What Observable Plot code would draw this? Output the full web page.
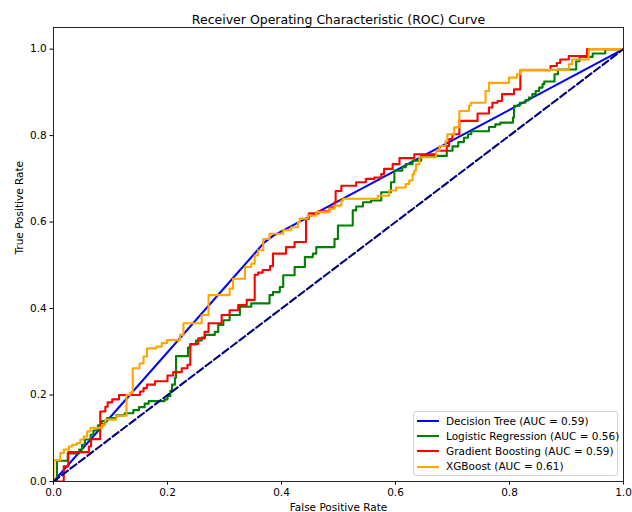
<!DOCTYPE html>
<html>
<head>
<meta charset="utf-8">
<script src="https://cdn.jsdelivr.net/npm/d3@7"></script>
<script src="https://cdn.jsdelivr.net/npm/@observablehq/plot@0.6"></script>
<style>
  html, body { margin: 0; padding: 0; background: #fff; }
  #wrap { position: relative; width: 632px; height: 512px; font-family: "DejaVu Sans", sans-serif; }
  #legend { position: absolute; left: 413px; top: 411px; width: 205px; height: 65px;
    border: 1px solid #d3d3d3; border-radius: 3px; background: rgba(255,255,255,0.85); box-sizing: border-box; }
  .row { position: absolute; left: 0; height: 12px; width: 100%; }
  .sw { position: absolute; left: 3px; top: 5px; width: 22px; height: 0; border-top: 2.1px solid; }
  .lb { position: absolute; left: 32px; top: -0.5px; font-size: 10.5px; line-height: 12px; color: #000; white-space: nowrap; }
</style>
</head>
<body>
<div id="wrap"><div id="chart"></div><div id="legend"></div></div>
<script>
const title = "Receiver Operating Characteristic (ROC) Curve";
const xLabel = "False Positive Rate";
const yLabel = "True Positive Rate";
const models = ["Decision Tree", "Logistic Regression", "Gradient Boosting", "XGBoost"];
const aucs = [0.59, 0.56, 0.59, 0.61];
const ticks = [0, 0.2, 0.4, 0.6, 0.8, 1.0];

// Decision Tree (polyline)
const dtFpr = [0, 0.37, 0.385, 0.405, 1];
const dtTpr = [0, 0.553, 0.568, 0.582, 1];

// Logistic Regression (fpr where the step rises, tpr after the rise)
const lrFpr = [0, 0.006, 0.025, 0.045, 0.05, 0.055, 0.065, 0.07, 0.078, 0.085, 0.094, 0.11, 0.125, 0.14, 0.15, 0.16, 0.167, 0.195, 0.2, 0.205, 0.208, 0.213, 0.215, 0.236, 0.24, 0.25, 0.26, 0.266, 0.283, 0.289, 0.298, 0.309, 0.327, 0.347, 0.379, 0.385, 0.397, 0.403, 0.423, 0.441, 0.455, 0.461, 0.493, 0.499, 0.525, 0.531, 0.543, 0.557, 0.575, 0.592, 0.598, 0.612, 0.618, 0.63, 0.645, 0.69, 0.70, 0.71, 0.72, 0.727, 0.733, 0.764, 0.775, 0.784, 0.806, 0.808, 0.818, 0.828, 0.834, 0.840, 0.846, 0.852, 0.858, 0.861, 0.879, 0.885, 0.917, 0.923, 0.946, 0.968, 1];
const lrTpr = [0, 0.048, 0.065, 0.074, 0.085, 0.097, 0.108, 0.118, 0.13, 0.14, 0.147, 0.153, 0.158, 0.165, 0.172, 0.18, 0.186, 0.19, 0.198, 0.21, 0.224, 0.24, 0.29, 0.31, 0.317, 0.326, 0.333, 0.339, 0.346, 0.362, 0.373, 0.385, 0.404, 0.412, 0.431, 0.438, 0.45, 0.477, 0.496, 0.519, 0.527, 0.542, 0.561, 0.592, 0.627, 0.636, 0.646, 0.65, 0.669, 0.692, 0.719, 0.727, 0.734, 0.742, 0.753, 0.765, 0.775, 0.785, 0.795, 0.803, 0.81, 0.82, 0.826, 0.83, 0.842, 0.869, 0.876, 0.882, 0.888, 0.896, 0.903, 0.911, 0.919, 0.925, 0.942, 0.953, 0.972, 0.982, 0.99, 1.0, 1];

// Gradient Boosting
const gbFpr = [0, 0.018, 0.026, 0.062, 0.066, 0.082, 0.091, 0.095, 0.103, 0.115, 0.152, 0.158, 0.164, 0.178, 0.2, 0.21, 0.225, 0.235, 0.24, 0.254, 0.265, 0.272, 0.295, 0.309, 0.324, 0.339, 0.353, 0.359, 0.367, 0.38, 0.385, 0.408, 0.423, 0.443, 0.448, 0.465, 0.484, 0.493, 0.495, 0.505, 0.531, 0.548, 0.563, 0.575, 0.58, 0.595, 0.607, 0.633, 0.671, 0.69, 0.694, 0.70, 0.712, 0.744, 0.764, 0.77, 0.779, 0.787, 0.808, 0.819, 0.872, 0.883, 0.889, 0.904, 0.936, 1];
const gbTpr = [0, 0.035, 0.068, 0.081, 0.098, 0.162, 0.173, 0.183, 0.19, 0.2, 0.208, 0.216, 0.224, 0.232, 0.245, 0.253, 0.262, 0.27, 0.318, 0.331, 0.346, 0.366, 0.385, 0.396, 0.408, 0.42, 0.478, 0.483, 0.489, 0.498, 0.527, 0.542, 0.554, 0.607, 0.62, 0.625, 0.634, 0.646, 0.672, 0.684, 0.692, 0.70, 0.703, 0.711, 0.723, 0.734, 0.748, 0.757, 0.765, 0.776, 0.792, 0.803, 0.834, 0.851, 0.865, 0.876, 0.88, 0.896, 0.907, 0.951, 0.961, 0.968, 0.976, 0.984, 1.0, 1];

// XGBoost
const xgbFpr = [0, 0, 0.012, 0.018, 0.027, 0.033, 0.041, 0.047, 0.053, 0.059, 0.065, 0.085, 0.091, 0.103, 0.11, 0.128, 0.134, 0.139, 0.151, 0.158, 0.164, 0.181, 0.19, 0.199, 0.222, 0.228, 0.26, 0.272, 0.309, 0.315, 0.336, 0.347, 0.353, 0.359, 0.368, 0.379, 0.403, 0.417, 0.429, 0.432, 0.446, 0.461, 0.484, 0.493, 0.505, 0.508, 0.569, 0.589, 0.601, 0.618, 0.624, 0.63, 0.633, 0.636, 0.642, 0.671, 0.677, 0.688, 0.691, 0.703, 0.712, 0.729, 0.732, 0.758, 0.764, 0.799, 0.813, 0.819, 0.904, 0.91, 0.939, 1];
const xgbTpr = [0, 0.049, 0.066, 0.074, 0.081, 0.085, 0.089, 0.097, 0.104, 0.116, 0.124, 0.131, 0.143, 0.143, 0.152, 0.2, 0.205, 0.262, 0.273, 0.289, 0.308, 0.312, 0.32, 0.327, 0.339, 0.366, 0.385, 0.431, 0.446, 0.469, 0.496, 0.504, 0.523, 0.535, 0.561, 0.573, 0.581, 0.588, 0.60, 0.608, 0.615, 0.623, 0.631, 0.638, 0.65, 0.654, 0.661, 0.673, 0.68, 0.688, 0.696, 0.711, 0.719, 0.734, 0.75, 0.765, 0.776, 0.788, 0.803, 0.819, 0.857, 0.869, 0.876, 0.903, 0.922, 0.934, 0.942, 0.952, 0.965, 0.976, 1.0, 1];

const chanceFpr = [0, 1];
const chanceTpr = [0, 1];

const colorRange = ["#0000ff", "#008000", "#ff0000", "#ffa500"];

const series = [[dtFpr, dtTpr], [lrFpr, lrTpr], [gbFpr, gbTpr], [xgbFpr, xgbTpr]];
const rows = [];
series.forEach(([f, t], i) => f.forEach((v, j) => rows.push({model: models[i], fpr: v, tpr: t[j]})));
const chance = chanceFpr.map((v, i) => ({fpr: v, tpr: chanceTpr[i]}));

const lw = 2.1;
const chart = Plot.plot({
  width: 632,
  height: 512,
  marginLeft: 53,
  marginRight: 9,
  marginTop: 27,
  marginBottom: 31,
  style: {fontFamily: "DejaVu Sans, sans-serif", fontSize: "10.5px", color: "#000", background: "#fff"},
  x: {domain: [0, 1]},
  y: {domain: [0, 1.05]},
  color: {domain: models, range: colorRange},
  marks: [
    Plot.line(rows.filter(d => d.model === models[0]), {x: "fpr", y: "tpr", stroke: "model", strokeWidth: lw, curve: "linear", clip: true}),
    Plot.line(rows.filter(d => d.model !== models[0]), {x: "fpr", y: "tpr", z: "model", stroke: "model", strokeWidth: lw, curve: "step-after", clip: true}),
    Plot.line(chance, {x: "fpr", y: "tpr", stroke: "#000080", strokeWidth: lw, strokeDasharray: "7.4,3.2", clip: true}),
    Plot.frame({stroke: "#000", strokeWidth: 0.85}),
    Plot.axisX({ticks, tickFormat: d3.format(".1f"), tickSize: 3.6, tickPadding: 3.2, label: null, fontSize: 10.5}),
    Plot.axisY({ticks, tickFormat: d3.format(".1f"), tickSize: 3.6, tickPadding: 3.2, label: null, fontSize: 10.5}),
    Plot.text([title], {frameAnchor: "top", dy: -12, text: d => d, fontSize: 12.5}),
    Plot.text([xLabel], {frameAnchor: "bottom", dy: 29.5, text: d => d, fontSize: 10.5}),
    Plot.text([yLabel], {frameAnchor: "left", dx: -34, rotate: -90, text: d => d, fontSize: 10.5})
  ]
});
document.getElementById("chart").appendChild(chart);

const legend = document.getElementById("legend");
models.forEach((m, i) => {
  const row = document.createElement("div");
  row.className = "row";
  row.style.top = (3 + i * 15.2) + "px";
  const sw = document.createElement("div");
  sw.className = "sw";
  sw.style.borderTopColor = colorRange[i];
  const lb = document.createElement("div");
  lb.className = "lb";
  lb.textContent = `${m} (AUC = ${aucs[i].toFixed(2)})`;
  row.appendChild(sw);
  row.appendChild(lb);
  legend.appendChild(row);
});
</script>
</body>
</html>
